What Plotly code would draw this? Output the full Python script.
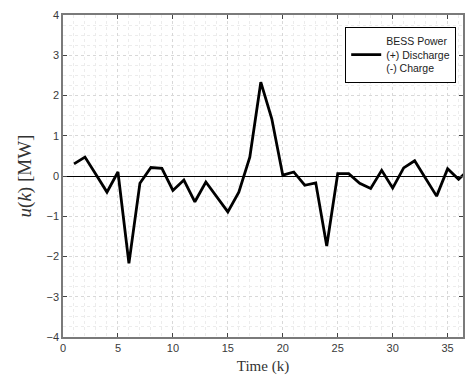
import plotly.graph_objects as go

k = list(range(1, 38))
u = [0.30, 0.47, 0.04, -0.40, 0.10, -2.17, -0.18, 0.21, 0.19, -0.36,
     -0.10, -0.64, -0.15, -0.52, -0.89, -0.40, 0.47, 2.33, 1.42, 0.02,
     0.10, -0.23, -0.17, -1.74, 0.06, 0.06, -0.18, -0.31, 0.14, -0.30,
     0.20, 0.38, -0.05, -0.50, 0.18, -0.08, 0.17]

x_ticks = [0, 5, 10, 15, 20, 25, 30, 35]
y_ticks = [-4, -3, -2, -1, 0, 1, 2, 3, 4]

fig = go.Figure()
fig.add_trace(go.Scatter(
    x=k, y=u, mode="lines",
    line=dict(color="black", width=2.8),
    name="BESS Power<br>(+) Discharge<br>(-) Charge",
    showlegend=True,
))

axis_common = dict(
    showline=True, linecolor="#7a7a7a", linewidth=1.6, mirror="ticks",
    ticks="inside", ticklen=4, tickcolor="#444", tickwidth=1,
    showgrid=True, gridcolor="#d8d8d8", griddash="dot", gridwidth=1,
    tickfont=dict(family="Liberation Sans, Arial", size=11, color="#3a3a3a"),
)

fig.update_xaxes(
    range=[0, 36.4], tickvals=x_ticks, zeroline=False,
    minor=dict(dtick=1, showgrid=True, gridcolor="#ececec", griddash="dot", ticks=""),
    title=dict(text="Time (k)", font=dict(family="Liberation Serif, DejaVu Serif", size=15, color="#333"), standoff=7),
    **axis_common,
)
fig.update_yaxes(
    range=[-4, 4], tickvals=y_ticks, zeroline=True, zerolinecolor="black", zerolinewidth=1,
    minor=dict(dtick=0.25, showgrid=True, gridcolor="#ececec", griddash="dot", ticks=""),
    title=dict(text="<i>u</i>(<i>k</i>) [MW]", font=dict(family="Liberation Serif, DejaVu Serif", size=19, color="#333"), standoff=10),
    **axis_common,
)

fig.update_layout(
    width=465, height=375,
    margin=dict(l=63, r=0, t=15, b=38),
    paper_bgcolor="white", plot_bgcolor="white",
    legend=dict(
        x=0.983, y=0.964, xanchor="right", yanchor="top",
        bgcolor="white", bordercolor="black", borderwidth=1,
        font=dict(family="Liberation Sans, Arial", size=10.5, color="#222"),
        valign="middle", itemwidth=30,
    ),
)

fig.write_html("out.html")
